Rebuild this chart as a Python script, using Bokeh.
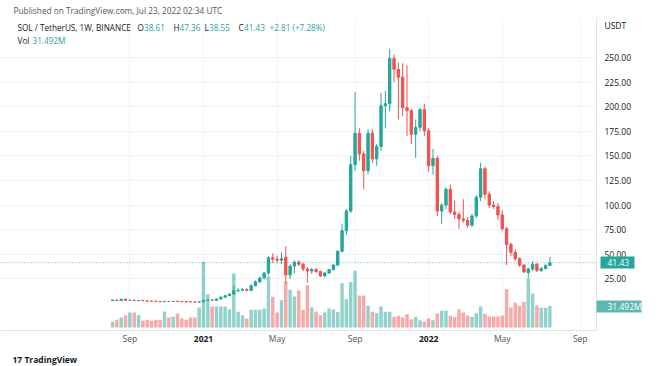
import pandas as pd
from bokeh.plotting import figure
from bokeh.models import (Range1d, FixedTicker, NumeralTickFormatter, Label, Span,
                          ColumnDataSource, LinearAxis, DatetimeAxis, Title)
from bokeh.embed import file_html
from bokeh.resources import INLINE

# ---------------- data (SOL/USDT weekly) ----------------
FIRST_WEEK = "2020-08-10"

open_ = [2.95, 3.55, 3.05, 4.4, 3.2, 3.35, 2.9, 3.1, 2.8, 2.45,
         2.3, 2.05, 1.75, 2.15, 2.0, 2.3, 2.0, 1.85, 1.65, 1.55,
         1.45, 1.8, 3.2, 3.6, 3.3, 4.6, 6.4, 8.0, 9.6, 13.0,
         13.5, 14.0, 13.2, 18.0, 22.0, 26.0, 31.0, 46.5, 45.0, 44.0,
         47.0, 29.0, 38.0, 42.0, 40.0, 35.0, 33.0, 34.5, 32.5, 28.0,
         31.0, 34.5, 39.0, 53.0, 74.0, 94.0, 141.0, 173.0, 152.0, 135.0,
         173.0, 147.0, 159.5, 201.0, 203.0, 249.0, 238.0, 230.0, 199.0, 196.0,
         172.0, 179.0, 197.0, 175.5, 140.0, 147.5, 94.0, 100.0, 116.0, 93.0,
         90.5, 86.0, 84.5, 79.5, 89.0, 108.0, 137.0, 111.0, 100.0, 98.5,
         90.0, 76.0, 60.0, 52.0, 45.5, 39.0, 31.5, 35.0, 40.0, 33.5,
         35.5, 38.61]
high = [3.9, 3.7, 4.9, 4.9, 3.7, 3.5, 3.5, 3.2, 2.95, 2.6,
        2.4, 2.15, 2.3, 2.3, 2.5, 2.5, 2.2, 1.95, 1.75, 1.65,
        1.9, 3.9, 4.3, 4.0, 5.2, 7.2, 8.6, 10.3, 18.5, 15.5,
        16.0, 15.5, 19.5, 23.5, 27.0, 32.0, 48.0, 51.0, 48.5, 52.0,
        58.0, 40.0, 44.0, 44.0, 41.0, 37.0, 36.0, 36.0, 33.5, 32.0,
        35.0, 40.0, 54.0, 81.0, 96.0, 150.0, 215.0, 178.0, 155.0, 177.0,
        177.0, 162.0, 214.0, 216.0, 259.0, 253.0, 245.0, 244.0, 242.0, 198.0,
        187.0, 199.0, 203.0, 178.0, 157.0, 150.0, 102.0, 118.0, 121.0, 104.5,
        93.0, 106.0, 88.0, 91.0, 110.0, 143.0, 139.0, 114.0, 104.0, 102.0,
        95.0, 78.0, 62.0, 55.0, 47.0, 40.0, 36.5, 43.0, 41.0, 37.0,
        40.0, 47.36]
low = [2.8, 2.9, 3.0, 2.9, 2.6, 2.6, 2.8, 2.7, 2.3, 2.2,
       1.95, 1.6, 1.65, 1.9, 1.95, 1.9, 1.7, 1.55, 1.45, 1.25,
       1.4, 1.75, 2.9, 2.9, 3.2, 4.4, 6.0, 7.6, 9.0, 11.5,
       12.5, 12.5, 12.8, 17.5, 21.0, 24.5, 29.0, 41.0, 41.0, 40.0,
       20.0, 25.0, 31.0, 38.0, 33.0, 21.0, 30.0, 31.0, 27.0, 26.5,
       30.0, 33.5, 38.0, 52.0, 70.0, 92.0, 135.0, 145.0, 116.0, 131.0,
       143.0, 140.0, 155.0, 178.0, 195.0, 225.0, 187.0, 190.0, 170.0, 162.0,
       148.0, 175.0, 170.0, 134.0, 131.0, 89.0, 81.0, 96.0, 91.0, 86.0,
       76.0, 82.0, 77.0, 78.0, 87.0, 104.0, 106.0, 97.0, 96.0, 85.0,
       74.0, 39.0, 48.0, 43.0, 37.0, 31.0, 26.0, 33.0, 32.0, 32.0,
       34.5, 38.55]
close = [3.55, 3.05, 4.4, 3.2, 3.35, 2.9, 3.1, 2.8, 2.45, 2.3,
         2.05, 1.75, 2.15, 2.0, 2.3, 2.0, 1.85, 1.65, 1.55, 1.45,
         1.8, 3.2, 3.6, 3.3, 4.6, 6.4, 8.0, 9.6, 13.0, 13.5,
         14.0, 13.2, 18.0, 22.0, 26.0, 31.0, 46.5, 45.0, 44.0, 45.5,
         29.0, 38.0, 42.0, 40.0, 35.0, 33.0, 34.5, 32.5, 28.0, 31.0,
         34.5, 39.0, 53.0, 74.0, 94.0, 141.0, 173.0, 152.0, 135.0, 173.0,
         147.0, 159.5, 201.0, 203.0, 249.0, 238.0, 230.0, 199.0, 196.0, 172.0,
         179.0, 197.0, 175.5, 140.0, 147.5, 94.0, 100.0, 116.0, 93.0, 90.5,
         86.0, 84.5, 79.5, 89.0, 108.0, 137.0, 111.0, 100.0, 98.5, 90.0,
         76.0, 60.0, 52.0, 45.5, 39.0, 32.0, 35.0, 40.0, 33.5, 35.5,
         38.61, 41.43]
volume_m = [8.4, 11.3, 14.7, 18.0, 22.0, 22.0, 18.0, 9.8, 11.3, 9.8,
            11.3, 11.3, 23.4, 14.7, 15.7, 20.5, 13.2, 11.3, 14.7, 14.7,
            29.3, 96.3, 48.8, 30.8, 30.8, 30.8, 30.8, 26.8, 79.1, 23.0,
            18.0, 13.2, 25.9, 25.9, 25.9, 27.8, 74.7, 45.0, 22.0, 40.0,
            67.4, 55.2, 45.4, 54.2, 25.9, 62.0, 29.3, 23.0, 18.0, 22.0,
            27.8, 26.4, 22.7, 64.9, 41.5, 66.7, 83.1, 46.9, 46.9, 32.2,
            23.0, 20.9, 30.8, 23.0, 23.0, 15.7, 17.1, 14.7, 19.5, 12.2,
            15.7, 10.7, 8.4, 13.2, 10.7, 20.5, 24.5, 24.5, 17.1, 15.4,
            26.8, 22.0, 17.6, 15.4, 20.9, 30.8, 20.2, 16.1, 16.1, 16.1,
            17.6, 56.1, 29.3, 36.2, 31.8, 37.7, 71.8, 49.8, 32.2, 28.9,
            28.9, 31.492]

time_tick_dates = ["2020-09-07", "2021-01-04", "2021-05-03", "2021-09-06",
                   "2022-01-03", "2022-05-02", "2022-09-05"]
time_tick_labels = ["Sep", "2021", "May", "Sep", "2022", "May", "Sep"]
price_ticks = [25, 50, 75, 100, 125, 150, 175, 200, 225, 250]
currency = "USDT"

# ---------------- styles ----------------
UP = "#26a69a"
DOWN = "#ef5350"
VOL_TAG = "#5db8ae"
FONT = "Open Sans"
TXT = "#131722"
FS = "8.5px"
HFS = "8.2px"

weeks = pd.date_range(FIRST_WEEK, periods=len(close), freq="7D")
colors = [UP if c >= o else DOWN for o, c in zip(open_, close)]
src = ColumnDataSource(dict(
    t=weeks, o=open_, h=high, l=low, c=close, v=volume_m,
    top=[max(o, c) for o, c in zip(open_, close)],
    bot=[min(o, c) for o, c in zip(open_, close)],
    col=colors,
))

WEEK_MS = 7 * 24 * 3600 * 1000
anchor = pd.Timestamp("2021-01-04")
x_start = anchor - pd.Timedelta(days=46.88 * 7)
x_end = anchor + pd.Timedelta(days=90.76 * 7)

PRICE_RANGE = (-27.44, 290.65)
VOL_RANGE = (-4.395, 454.15)

p = figure(x_axis_type="datetime", y_axis_location=None,
           title="Published on TradingView.com, Jul 23, 2022 02:34 UTC",
           frame_width=596, frame_height=313,
           min_border_left=0, min_border_right=64, min_border_top=15, min_border_bottom=38,
           x_range=Range1d(x_start, x_end), y_range=Range1d(*PRICE_RANGE),
           output_backend="svg", toolbar_location=None,
           background_fill_color="white", border_fill_color="white")
p.outline_line_color = None
p.extra_y_ranges = {"vol": Range1d(*VOL_RANGE)}

p.title.text_font = FONT
p.title.text_font_size = "8.3px"
p.title.text_font_style = "normal"
p.title.text_color = "#555555"
p.title.align = "left"
p.title.offset = 13
p.title.standoff = 4

# horizontal grid on the price ticks
for g in p.ygrid:
    g.ticker = FixedTicker(ticks=price_ticks)
    g.grid_line_color = "#f0f3fa"

# volume
p.vbar(x="t", top="v", bottom=0, width=0.8 * WEEK_MS, source=src, y_range_name="vol",
       fill_color="col", fill_alpha=0.5, line_color=None)

# last price line
p.add_layout(Span(location=close[-1], dimension="width", line_color=UP,
                  line_dash="1 2", line_width=1, line_alpha=0.8))

# candles
p.segment(x0="t", y0="h", x1="t", y1="l", source=src, line_color="col", line_width=1)
p.vbar(x="t", top="top", bottom="bot", width=0.55 * WEEK_MS, source=src,
       fill_color="col", line_color="col", line_width=1)

# --- price scale (right) ---
# volume value expressed on the price scale (position of the volume tag)
vol_on_price = PRICE_RANGE[0] + (volume_m[-1] - VOL_RANGE[0]) / (VOL_RANGE[1] - VOL_RANGE[0]) \
    * (PRICE_RANGE[1] - PRICE_RANGE[0])
usdt_pos = 282.5

price_axis = LinearAxis(
    ticker=FixedTicker(ticks=price_ticks + [usdt_pos], minor_ticks=[vol_on_price]),
    formatter=NumeralTickFormatter(format="0.00"),
    major_label_overrides={usdt_pos: currency},
    major_tick_out=0, major_tick_in=0, major_tick_line_color=None,
    minor_tick_in=0, minor_tick_out=45, minor_tick_line_width=12,
    minor_tick_line_color=VOL_TAG, minor_tick_line_cap="butt",
    axis_line_color="#e0e3eb", major_label_standoff=8 - 45,
    major_label_text_font=FONT, major_label_text_font_size=FS,
    major_label_text_color=TXT)
p.add_layout(price_axis, "right")

tag_axis = LinearAxis(
    ticker=FixedTicker(ticks=[close[-1], vol_on_price], minor_ticks=[close[-1]]),
    formatter=NumeralTickFormatter(format="0.00"),
    major_label_overrides={vol_on_price: f"{volume_m[-1]:.3f}M"},
    major_tick_out=0, major_tick_in=0, major_tick_line_color=None,
    minor_tick_in=34, minor_tick_out=0, minor_tick_line_width=12,
    minor_tick_line_color=UP, minor_tick_line_cap="butt",
    axis_line_color=None, major_label_standoff=-27,
    major_label_text_font=FONT, major_label_text_font_size=FS,
    major_label_text_color="white")
p.add_layout(tag_axis, "right")

# --- time scale ---
tick_ms = [pd.Timestamp(d).value / 1e6 for d in time_tick_dates]
p.xaxis.ticker = FixedTicker(ticks=tick_ms)
p.xaxis.major_label_overrides = {
    t: ("" if lab.isdigit() else lab) for t, lab in zip(tick_ms, time_tick_labels)}
p.xaxis.major_tick_line_color = None
p.xaxis.minor_tick_line_color = None
p.xaxis.major_tick_out = 0
p.xaxis.major_tick_in = 0
p.xaxis.minor_tick_out = 0
p.xaxis.axis_line_color = "#e0e3eb"
p.xaxis.major_label_standoff = 2
p.xaxis.major_label_text_font = FONT
p.xaxis.major_label_text_font_size = FS
p.xaxis.major_label_text_color = "#50535e"
p.xgrid.grid_line_color = "#f0f3fa"

year_ms = [t for t, lab in zip(tick_ms, time_tick_labels) if lab.isdigit()]
year_axis = DatetimeAxis(
    ticker=FixedTicker(ticks=year_ms),
    major_label_overrides={t: lab for t, lab in zip(tick_ms, time_tick_labels) if lab.isdigit()},
    major_tick_out=0, major_tick_in=0, minor_tick_out=0, minor_tick_in=0,
    major_tick_line_color=None, minor_tick_line_color=None, axis_line_color=None,
    major_label_standoff=-11, major_label_text_font=FONT, major_label_text_font_size=FS,
    major_label_text_font_style="bold", major_label_text_color=TXT)
p.add_layout(year_axis, "below")

# logo
p.add_layout(Title(text="17 TradingView", align="left", offset=12, standoff=10,
                   text_font=FONT, text_font_size="8.5px", text_font_style="bold",
                   text_color=TXT), "below")


def lab(x, y, text, color=TXT):
    p.add_layout(Label(x=x, y=y, x_units="screen", y_units="screen", text=text,
                       text_font=FONT, text_font_size=HFS, text_color=color,
                       text_baseline="middle"))


# header / legend (x in px from the left, y in px above the frame bottom)
lab(17, 303, "SOL / TetherUS, 1W, BINANCE")
pieces = [(137, "O", TXT), (143.5, "38.61", UP), (173, "H", TXT), (179, "47.36", UP),
          (204, "L", TXT), (208.5, "38.55", UP), (238, "C", TXT), (243.5, "41.43", UP),
          (269, "+2.81 (+7.28%)", UP)]
for x, t, c in pieces:
    lab(x, 303, t, color=c)
lab(17, 290, "Vol")
lab(32, 290, "31.492M", color=UP)

open("out.html", "w").write(file_html(p, INLINE))
